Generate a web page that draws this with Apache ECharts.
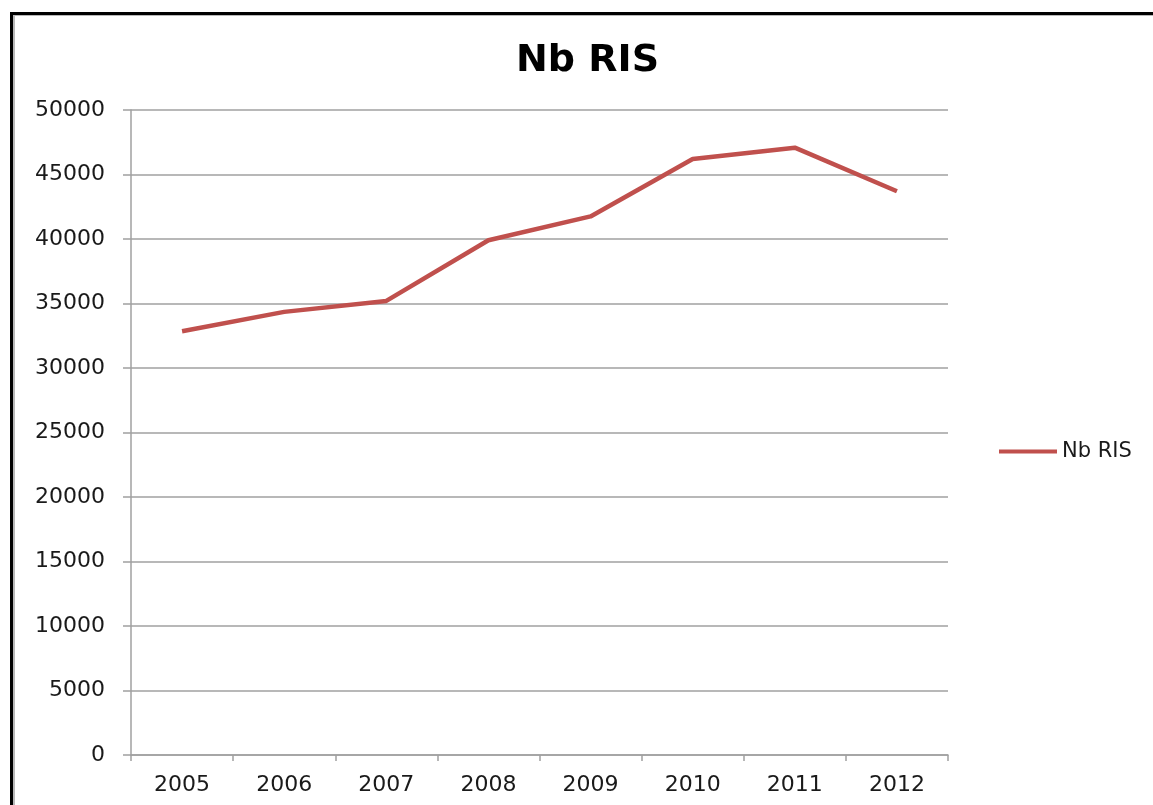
<!DOCTYPE html>
<html>
<head>
<meta charset="utf-8">
<script src="https://cdn.jsdelivr.net/npm/echarts@6/dist/echarts.min.js"></script>
<style>
  html, body { margin: 0; padding: 0; background: #fff; }
  #chart { width: 1153px; height: 805px; }
  #frame {
    position: absolute; left: 10px; top: 12px; width: 1200px; height: 900px;
    border-left: 3px solid #000; border-top: 3px solid #000;
    box-shadow: inset 2px 1px 0 #b8b8b8;
    pointer-events: none;
  }
</style>
</head>
<body>
<div id="chart"></div>
<div id="frame"></div>
<script>
const categories = ['2005', '2006', '2007', '2008', '2009', '2010', '2011', '2012'];
const seriesName = 'Nb RIS';
const values = [32850, 34350, 35200, 39900, 41750, 46200, 47080, 43700];
const yTicks = { min: 0, max: 50000, interval: 5000 };

const chart = echarts.init(document.getElementById('chart'));
chart.setOption({
  animation: false,
  backgroundColor: '#ffffff',
  title: {
    text: 'Nb RIS',
    left: 511,
    top: 37,
    textStyle: { fontFamily: 'DejaVu Sans', fontWeight: 'bold', fontSize: 38, color: '#000' }
  },
  legend: {
    data: [seriesName],
    left: 992,
    top: 436,
    itemWidth: 58,
    itemHeight: 4,
    lineStyle: { width: 4, color: '#c0504d' },
    textStyle: { fontFamily: 'DejaVu Sans', fontSize: 21, color: '#1a1a1a' }
  },
  grid: { left: 131, right: 205, top: 110, bottom: 50, containLabel: false },
  xAxis: {
    type: 'category',
    data: categories,
    boundaryGap: true,
    axisLine: { lineStyle: { color: '#a0a0a0', width: 1.5 } },
    axisTick: { show: true, length: 6, lineStyle: { color: '#a0a0a0', width: 1.5 } },
    axisLabel: { margin: 19, fontFamily: 'DejaVu Sans', fontSize: 22, color: '#1a1a1a' },
    splitLine: { show: false }
  },
  yAxis: {
    type: 'value',
    min: yTicks.min,
    max: yTicks.max,
    interval: yTicks.interval,
    axisLine: { show: true, lineStyle: { color: '#a0a0a0', width: 1.5 } },
    axisTick: { show: true, length: 8, lineStyle: { color: '#a0a0a0', width: 1.5 } },
    axisLabel: { margin: 26, fontFamily: 'DejaVu Sans', fontSize: 22, color: '#1a1a1a',
      formatter: function (v) { return String(v); } },
    splitLine: { show: true, lineStyle: { color: '#a0a0a0', width: 1.5 } }
  },
  series: [{
    name: seriesName,
    type: 'line',
    data: values,
    symbol: 'none',
    lineStyle: { color: '#c0504d', width: 4.5 },
    itemStyle: { color: '#c0504d' }
  }]
});
</script>
</body>
</html>
